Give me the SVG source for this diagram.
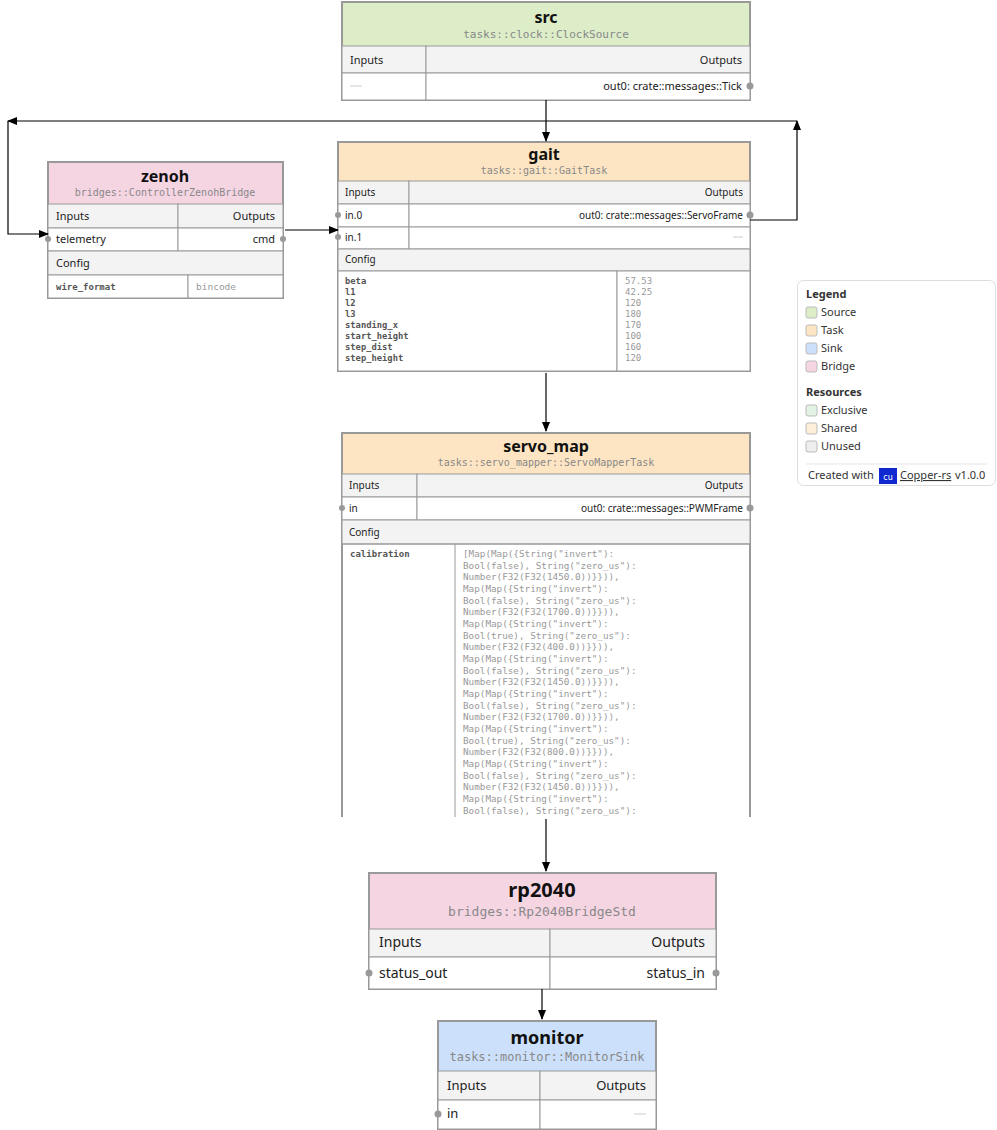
<svg xmlns="http://www.w3.org/2000/svg" width="997" height="1130" viewBox="0 0 997 1130">
<style>
.box{fill:#fff;stroke:#999;stroke-width:2}
.hdr{fill:#f3f3f3;stroke:#999;stroke-width:1}
.cell{fill:#fff;stroke:#999;stroke-width:1}
.t{font-family:"Noto Sans","DejaVu Sans",sans-serif;font-weight:bold;fill:#111;text-anchor:middle}
.ty{font-family:"DejaVu Sans Mono",monospace;fill:#888;text-anchor:middle}
.l{font-family:"Noto Sans","DejaVu Sans",sans-serif;fill:#222}
.r{text-anchor:end}
.ck{font-family:"DejaVu Sans Mono",monospace;fill:#555;font-weight:bold}
.cv{font-family:"DejaVu Sans Mono",monospace;fill:#999}
.dash{stroke:#ccc;stroke-width:1}
.port{fill:#999}
.e{fill:none;stroke:#000;stroke-width:1.2}
.lg{font-family:"Noto Sans","DejaVu Sans",sans-serif;font-size:11px;fill:#333}
</style>
<defs>
<marker id="a" markerWidth="10" markerHeight="8" refX="9" refY="4" orient="auto" markerUnits="userSpaceOnUse"><path d="M0,0 L10,4 L0,8 Z" fill="#000"/></marker>
</defs>

<g id="src">
<rect x="342" y="2" width="408" height="98" class="box"/>
<rect x="343" y="3" width="406" height="43" fill="#dcedc8"/>
<text x="546" y="23" class="t" font-size="16">src</text>
<text x="546" y="38" class="ty" font-size="11">tasks::clock::ClockSource</text>
<rect x="342" y="46" width="84" height="27" class="hdr"/><rect x="426" y="46" width="324" height="27" class="hdr"/>
<rect x="342" y="73" width="84" height="27" class="cell"/><rect x="426" y="73" width="324" height="27" class="cell"/>
<text x="350" y="64" class="l" font-size="11">Inputs</text><text x="742" y="64" class="l r" font-size="11">Outputs</text>
<line x1="350" y1="86" x2="362" y2="86" class="dash"/>
<text x="742" y="90" class="l r" font-size="11">out0: crate::messages::Tick</text>
<circle cx="750" cy="86" r="3.5" class="port"/>
</g>

<g id="gait">
<rect x="338" y="142" width="412" height="229" class="box"/>
<rect x="339" y="143" width="410" height="38" fill="#fde5c3"/>
<text x="544" y="160" class="t" font-size="16">gait</text>
<text x="544" y="174" class="ty" font-size="10">tasks::gait::GaitTask</text>
<rect x="338" y="181" width="71" height="23" class="hdr"/><rect x="409" y="181" width="341" height="23" class="hdr"/>
<rect x="338" y="204" width="71" height="23" class="cell"/><rect x="409" y="204" width="341" height="23" class="cell"/>
<rect x="338" y="227" width="71" height="22" class="cell"/><rect x="409" y="227" width="341" height="22" class="cell"/>
<rect x="338" y="249" width="412" height="22" class="hdr"/>
<rect x="338" y="271" width="279" height="100" class="cell"/><rect x="617" y="271" width="133" height="100" class="cell"/>
<text x="345" y="196" class="l" font-size="10">Inputs</text><text x="743" y="196" class="l r" font-size="10">Outputs</text>
<text x="345" y="219" class="l" font-size="10">in.0</text>
<text x="743" y="219" class="l r" font-size="10">out0: crate::messages::ServoFrame</text>
<text x="345" y="241" class="l" font-size="10">in.1</text>
<line x1="733" y1="237" x2="743" y2="237" class="dash"/>
<text x="345" y="263" class="l" font-size="10">Config</text>
<circle cx="338" cy="215" r="3" class="port"/><circle cx="338" cy="237" r="3" class="port"/><circle cx="750" cy="215" r="3.5" class="port"/>
<g class="ck" font-size="8.8"><text x="345" y="284">beta</text><text x="345" y="295">l1</text><text x="345" y="306">l2</text><text x="345" y="317">l3</text><text x="345" y="328">standing_x</text><text x="345" y="339">start_height</text><text x="345" y="350">step_dist</text><text x="345" y="361">step_height</text></g>
<g class="cv" font-size="9"><text x="625" y="284">57.53</text><text x="625" y="295">42.25</text><text x="625" y="306">120</text><text x="625" y="317">180</text><text x="625" y="328">170</text><text x="625" y="339">100</text><text x="625" y="350">160</text><text x="625" y="361">120</text></g>
</g>

<g id="zenoh">
<rect x="48" y="162" width="235" height="136" class="box"/>
<rect x="49" y="163" width="233" height="41" fill="#f6d5e3"/>
<text x="165" y="182" class="t" font-size="16">zenoh</text>
<text x="165" y="196" class="ty" font-size="10">bridges::ControllerZenohBridge</text>
<rect x="48" y="204" width="130" height="24" class="hdr"/><rect x="178" y="204" width="105" height="24" class="hdr"/>
<rect x="48" y="228" width="130" height="23" class="cell"/><rect x="178" y="228" width="105" height="23" class="cell"/>
<rect x="48" y="251" width="235" height="24" class="hdr"/>
<rect x="48" y="275" width="140" height="23" class="cell"/><rect x="188" y="275" width="95" height="23" class="cell"/>
<text x="56" y="220" class="l" font-size="11">Inputs</text><text x="275" y="220" class="l r" font-size="11">Outputs</text>
<text x="56" y="243" class="l" font-size="11">telemetry</text><text x="275" y="243" class="l r" font-size="11">cmd</text>
<text x="56" y="267" class="l" font-size="11">Config</text>
<text x="56" y="290" class="ck" font-size="9">wire_format</text>
<text x="196" y="290" class="cv" font-size="9.5">bincode</text>
<circle cx="48" cy="239" r="3" class="port"/><circle cx="283" cy="239" r="3" class="port"/>
</g>

<g id="servo_map">
<path d="M342,817 V433 H750 V817" fill="#fff" stroke="#999" stroke-width="2"/>
<rect x="343" y="434" width="406" height="40" fill="#fde5c3"/>
<text x="546" y="452" class="t" font-size="16">servo_map</text>
<text x="546" y="466" class="ty" font-size="10">tasks::servo_mapper::ServoMapperTask</text>
<rect x="342" y="474" width="75" height="23" class="hdr"/><rect x="417" y="474" width="333" height="23" class="hdr"/>
<rect x="342" y="497" width="75" height="23" class="cell"/><rect x="417" y="497" width="333" height="23" class="cell"/>
<rect x="342" y="520" width="408" height="24" class="hdr"/>
<path d="M342,817 V544 H750 V817 M455,544 V817" fill="none" stroke="#999"/>
<text x="349" y="489" class="l" font-size="10">Inputs</text><text x="743" y="489" class="l r" font-size="10">Outputs</text>
<text x="349" y="512" class="l" font-size="10">in</text>
<text x="743" y="512" class="l r" font-size="10">out0: crate::messages::PWMFrame</text>
<text x="349" y="536" class="l" font-size="10">Config</text>
<circle cx="342" cy="508" r="3" class="port"/><circle cx="750" cy="508" r="3.5" class="port"/>
<text x="350" y="557" class="ck" font-size="9">calibration</text>
<g class="cv" font-size="9.3">
<text x="463" y="557">[Map(Map({String("invert"):</text>
<text x="463" y="569">Bool(false), String("zero_us"):</text>
<text x="463" y="580">Number(F32(F32(1450.0))}})),</text>
<text x="463" y="592">Map(Map({String("invert"):</text>
<text x="463" y="604">Bool(false), String("zero_us"):</text>
<text x="463" y="615">Number(F32(F32(1700.0))}})),</text>
<text x="463" y="627">Map(Map({String("invert"):</text>
<text x="463" y="639">Bool(true), String("zero_us"):</text>
<text x="463" y="650">Number(F32(F32(400.0))}})),</text>
<text x="463" y="662">Map(Map({String("invert"):</text>
<text x="463" y="674">Bool(false), String("zero_us"):</text>
<text x="463" y="685">Number(F32(F32(1450.0))}})),</text>
<text x="463" y="697">Map(Map({String("invert"):</text>
<text x="463" y="709">Bool(false), String("zero_us"):</text>
<text x="463" y="720">Number(F32(F32(1700.0))}})),</text>
<text x="463" y="732">Map(Map({String("invert"):</text>
<text x="463" y="744">Bool(true), String("zero_us"):</text>
<text x="463" y="755">Number(F32(F32(800.0))}})),</text>
<text x="463" y="767">Map(Map({String("invert"):</text>
<text x="463" y="779">Bool(false), String("zero_us"):</text>
<text x="463" y="790">Number(F32(F32(1450.0))}})),</text>
<text x="463" y="802">Map(Map({String("invert"):</text>
<text x="463" y="814">Bool(false), String("zero_us"):</text>
</g>
</g>

<g id="rp2040">
<rect x="369" y="873" width="347" height="116" class="box"/>
<rect x="370" y="874" width="345" height="55" fill="#f6d5e3"/>
<text x="542" y="897" class="t" font-size="20">rp2040</text>
<text x="542" y="916" class="ty" font-size="13">bridges::Rp2040BridgeStd</text>
<rect x="369" y="929" width="181" height="28" class="hdr"/><rect x="550" y="929" width="166" height="28" class="hdr"/>
<rect x="369" y="957" width="181" height="32" class="cell"/><rect x="550" y="957" width="166" height="32" class="cell"/>
<text x="379" y="947" class="l" font-size="14">Inputs</text><text x="705" y="947" class="l r" font-size="14">Outputs</text>
<text x="379" y="978" class="l" font-size="14">status_out</text><text x="705" y="978" class="l r" font-size="14">status_in</text>
<circle cx="369" cy="973" r="3.5" class="port"/><circle cx="716" cy="973" r="3.5" class="port"/>
</g>

<g id="monitor">
<rect x="438" y="1021" width="218" height="108" class="box"/>
<rect x="439" y="1022" width="216" height="49" fill="#cce0fb"/>
<text x="547" y="1044" class="t" font-size="18">monitor</text>
<text x="547" y="1061" class="ty" font-size="12">tasks::monitor::MonitorSink</text>
<rect x="438" y="1071" width="102" height="29" class="hdr"/><rect x="540" y="1071" width="116" height="29" class="hdr"/>
<rect x="438" y="1100" width="102" height="29" class="cell"/><rect x="540" y="1100" width="116" height="29" class="cell"/>
<text x="447" y="1090" class="l" font-size="13">Inputs</text><text x="646" y="1090" class="l r" font-size="13">Outputs</text>
<text x="447" y="1118" class="l" font-size="13">in</text>
<line x1="634" y1="1114" x2="646" y2="1114" class="dash"/>
<circle cx="438" cy="1114" r="3.5" class="port"/>
</g>

<g id="connectors">
<path d="M546,100 V141" class="e" marker-end="url(#a)"/>
<path d="M750,220 H797 V121" class="e" marker-end="url(#a)"/>
<path d="M797,121 H8" class="e" marker-end="url(#a)"/>
<path d="M8,121 V234 H48" class="e" marker-end="url(#a)"/>
<path d="M285,230 H338" class="e" marker-end="url(#a)"/>
<path d="M546,373 V431" class="e" marker-end="url(#a)"/>
<path d="M546,819 V871" class="e" marker-end="url(#a)"/>
<path d="M542,989 V1019" class="e" marker-end="url(#a)"/>
</g>

<g id="legend">
<rect x="797.5" y="280.5" width="198" height="205" rx="6" fill="#fff" stroke="#ddd"/>
<text x="806" y="298" class="lg" font-weight="bold" fill="#666">Legend</text>
<rect x="806" y="307" width="11" height="11" rx="2" fill="#dcedc8" stroke="#bbb"/><text x="821" y="316" class="lg">Source</text>
<rect x="806" y="325" width="11" height="11" rx="2" fill="#fde5c3" stroke="#bbb"/><text x="821" y="334" class="lg">Task</text>
<rect x="806" y="343" width="11" height="11" rx="2" fill="#cce0fb" stroke="#bbb"/><text x="821" y="352" class="lg">Sink</text>
<rect x="806" y="361" width="11" height="11" rx="2" fill="#f6d5e3" stroke="#bbb"/><text x="821" y="370" class="lg">Bridge</text>
<text x="806" y="396" class="lg" font-weight="bold" fill="#666">Resources</text>
<rect x="806" y="405" width="11" height="11" rx="2" fill="#e3f3e3" stroke="#bbb"/><text x="821" y="414" class="lg">Exclusive</text>
<rect x="806" y="423" width="11" height="11" rx="2" fill="#fdeed8" stroke="#bbb"/><text x="821" y="432" class="lg">Shared</text>
<rect x="806" y="441" width="11" height="11" rx="2" fill="#eee" stroke="#bbb"/><text x="821" y="450" class="lg">Unused</text>
<line x1="806" y1="464" x2="987" y2="464" stroke="#e5e5e5"/>
<text x="808" y="479" class="lg" fill="#777">Created with</text>
<rect x="879" y="468" width="18" height="16" fill="#1028d0"/>
<text x="888" y="480" font-family="DejaVu Sans" font-size="8" fill="#fff" text-anchor="middle">cu</text>
<text x="900" y="479" class="lg" fill="#1a1aee" text-decoration="underline">Copper-rs</text>
<text x="955" y="479" class="lg" fill="#666">v1.0.0</text>
</g>
</svg>
